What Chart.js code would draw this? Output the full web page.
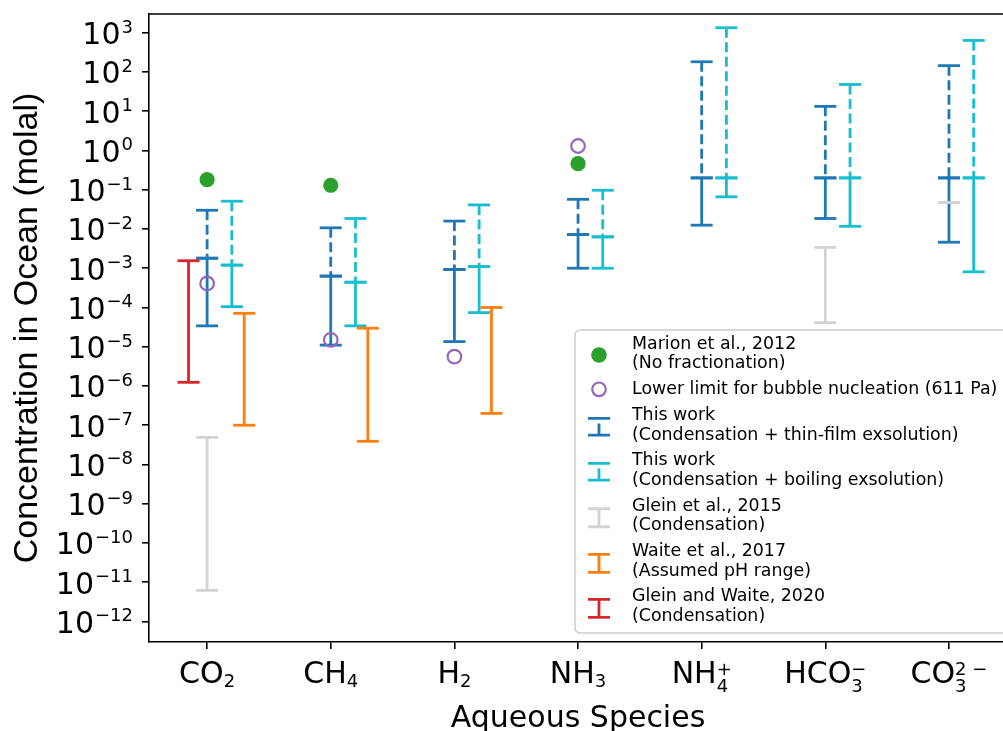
<!DOCTYPE html>
<html>
<head>
<meta charset="utf-8">
<title>Concentration in Ocean</title>
<script src="https://cdn.jsdelivr.net/npm/chart.js@4.4.1/dist/chart.umd.min.js"></script>
<style>
  html, body { margin: 0; padding: 0; background: #fff; overflow: hidden; }
  #wrap { width: 1003px; height: 731px; position: relative; }
</style>
</head>
<body>
<div id="wrap"><canvas id="chart"></canvas></div>
<script>
// Species on the x axis (base, subscript, superscript)
const speciesBase = ['CO', 'CH', 'H', 'NH', 'NH', 'HCO', 'CO'];
const speciesSub  = ['2', '4', '2', '3', '4', '3', '3'];
const speciesSup  = ['', '', '', '', '+', '\u2212', '2 \u2212'];

// y ticks (powers of ten)
const yTickExponents = [-12, -11, -10, -9, -8, -7, -6, -5, -4, -3, -2, -1, 0, 1, 2, 3];

// Marion et al., 2012 (no fractionation)
const marion = [0.18, 0.13, null, 0.46, null, null, null];
// Lower limit for bubble nucleation (611 Pa)
const bubbleLimit = [4.1e-4, 1.5e-5, 5.6e-6, 1.3, null, null, null];

// This work: condensation + thin-film exsolution
const thinFilmLow  = [3.4e-5, 1.1e-5, 1.35e-5, 1.0e-3, 0.0125, 0.0185, 4.6e-3];
const thinFilmMid  = [1.8e-3, 6.3e-4, 9.3e-4, 7.2e-3, 0.2, 0.2, 0.2];
const thinFilmHigh = [0.030, 0.0107, 0.0159, 0.057, 182, 13.3, 145];

// This work: condensation + boiling exsolution
const boilingLow  = [1.05e-4, 3.4e-5, 7.4e-5, 1.0e-3, 0.066, 0.0117, 8.1e-4];
const boilingMid  = [1.2e-3, 4.4e-4, 1.1e-3, 6.3e-3, 0.2, 0.2, 0.2];
const boilingHigh = [0.051, 0.0185, 0.041, 0.097, 1340, 48, 636];

// Glein et al., 2015 (condensation)
const glein2015Low  = [6.2e-12, null, null, null, null, 4.1e-5, 0.047];
const glein2015High = [4.9e-8, null, null, null, null, 3.4e-3, 0.047];

// Waite et al., 2017 (assumed pH range)
const waiteLow  = [1.0e-7, 3.9e-8, 2.0e-7, null, null, null, null];
const waiteHigh = [7.1e-5, 2.96e-5, 1.0e-4, null, null, null, null];

// Glein and Waite, 2020 (condensation)
const gleinWaiteLow  = [1.24e-6, null, null, null, null, null, null];
const gleinWaiteHigh = [1.55e-3, null, null, null, null, null, null];

// Cores (matplotlib tab)
const BLUE = '#1f77b4', CYAN = '#17becf', GRAY = '#d3d3d3', ORANGE = '#ff7f0e',
      RED = '#d62728', GREEN = '#2ca02c', PURPLE = '#9467bd';
const LW = 2.8;

// Pontos de uma barra de erro: topo, base, quebra
function rangePoints(low, high, offset) {
    const pts = [];
    low.forEach((v, i) => {
        if (v === null) return;
        pts.push({x: i + offset, y: high[i]}, {x: i + offset, y: v}, {x: i + offset, y: null});
    });
    return pts;
}

function markerPoints(values) {
    return values.map((v, i) => v === null ? null : {x: i, y: v}).filter(Boolean);
}

function errorSet(data, color, dashed) {
    return {
        data: data,
        showLine: true,
        spanGaps: false,
        borderColor: color,
        borderWidth: LW,
        borderDash: dashed ? [10, 4.5] : [],
        pointStyle: 'line',
        pointRadius: 11,
        pointBorderWidth: LW,
        pointBorderColor: color,
        pointBackgroundColor: color
    };
}

// Desenha texto químico com índices
function drawChem(ctx, base, sub, sup, cx, baseline) {
    ctx.font = '30px "DejaVu Sans"';
    const wb = ctx.measureText(base).width;
    ctx.font = '18px "DejaVu Sans"';
    const wsub = ctx.measureText(sub).width;
    const wsup = sup ? ctx.measureText(sup).width : 0;
    const total = wb + Math.max(wsub, wsup);
    const x0 = cx - total / 2;
    ctx.textAlign = 'left';
    ctx.textBaseline = 'alphabetic';
    ctx.font = '30px "DejaVu Sans"';
    ctx.fillText(base, x0, baseline);
    ctx.font = '18px "DejaVu Sans"';
    if (sup) {
        ctx.fillText(sub, x0 + wb, baseline + 9);
        ctx.fillText(sup, x0 + wb, baseline - 8);
    } else {
        ctx.fillText(sub, x0 + wb, baseline + 3.5);
    }
}

const decorPlugin = {
    id: 'decor',
    afterDraw(chart) {
        const {ctx, chartArea: a, scales: {x, y}} = chart;
        ctx.save();

        // borda superior
        ctx.strokeStyle = '#000';
        ctx.lineWidth = 1.6;
        ctx.beginPath();
        ctx.moveTo(a.left, a.top);
        ctx.lineTo(a.right, a.top);
        ctx.stroke();

        ctx.fillStyle = '#000';

        // rótulos do eixo y
        y.ticks.forEach(t => {
            const py = y.getPixelForValue(t.value);
            const exp = Math.round(Math.log10(t.value));
            const sup = exp < 0 ? '\u2212' + (-exp) : String(exp);
            ctx.font = '18px "DejaVu Sans"';
            const ws = ctx.measureText(sup).width;
            ctx.font = '30px "DejaVu Sans"';
            const wm = ctx.measureText('10').width;
            const right = a.left - 16;
            ctx.textAlign = 'left';
            ctx.textBaseline = 'alphabetic';
            ctx.fillText('10', right - ws - wm - 1, py + 11.5);
            ctx.font = '18px "DejaVu Sans"';
            ctx.fillText(sup, right - ws, py);
        });

        // título do eixo y
        ctx.save();
        ctx.translate(37, (a.top + a.bottom) / 2);
        ctx.rotate(-Math.PI / 2);
        ctx.font = '34px "Liberation Sans"';
        ctx.textAlign = 'center';
        ctx.textBaseline = 'alphabetic';
        ctx.fillText('Concentration in Ocean (molal)', 0, 0);
        ctx.restore();

        // rótulos do eixo x
        speciesBase.forEach((b, i) => {
            drawChem(ctx, b, speciesSub[i], speciesSup[i], x.getPixelForValue(i), a.bottom + 41);
        });

        // título do eixo x
        ctx.font = '30px "DejaVu Sans"';
        ctx.textAlign = 'center';
        ctx.textBaseline = 'alphabetic';
        const cx = (x.getPixelForValue(-0.47) + x.getPixelForValue(6.47)) / 2;
        ctx.fillText('Aqueous Species', cx, a.bottom + 85);

        // legenda
        drawLegend(ctx);
        ctx.restore();
    }
};

function drawLegend(ctx) {
    const left = 575, top = 330, bottom = 633, right = 1015, r = 5;
    ctx.beginPath();
    ctx.moveTo(left + r, top);
    ctx.lineTo(right, top);
    ctx.lineTo(right, bottom);
    ctx.lineTo(left + r, bottom);
    ctx.arcTo(left, bottom, left, bottom - r, r);
    ctx.lineTo(left, top + r);
    ctx.arcTo(left, top, left + r, top, r);
    ctx.closePath();
    ctx.fillStyle = 'rgba(255,255,255,0.85)';
    ctx.fill();
    ctx.strokeStyle = '#cccccc';
    ctx.lineWidth = 1.5;
    ctx.stroke();

    const sx = 599, tx = 632;
    const entries = [
        {lines: ['Marion et al., 2012', '(No fractionation)'], y: 344, kind: 'dot'},
        {lines: ['Lower limit for bubble nucleation (611 Pa)'], y: 389.3, kind: 'circle'},
        {lines: ['This work', '(Condensation + thin-film exsolution)'], y: 415.7, kind: 'split', color: BLUE},
        {lines: ['This work', '(Condensation + boiling exsolution)'], y: 460.7, kind: 'split', color: CYAN},
        {lines: ['Glein et al., 2015', '(Condensation)'], y: 506, kind: 'bar', color: GRAY},
        {lines: ['Waite et al., 2017', '(Assumed pH range)'], y: 551.7, kind: 'bar', color: ORANGE},
        {lines: ['Glein and Waite, 2020', '(Condensation)'], y: 596.7, kind: 'bar', color: RED}
    ];

    ctx.font = '17.4px "DejaVu Sans"';
    ctx.textAlign = 'left';
    ctx.textBaseline = 'middle';
    entries.forEach(e => {
        ctx.fillStyle = '#000';
        e.lines.forEach((t, k) => ctx.fillText(t, tx, e.y + k * 19.5));
        const m = e.lines.length > 1 ? e.y + 9.75 : e.y;
        ctx.lineWidth = LW;
        if (e.kind === 'dot') {
            ctx.fillStyle = GREEN;
            ctx.beginPath(); ctx.arc(sx, m + 1.3, 7.8, 0, Math.PI * 2); ctx.fill();
        } else if (e.kind === 'circle') {
            ctx.strokeStyle = PURPLE; ctx.lineWidth = 2.2;
            ctx.beginPath(); ctx.arc(sx, m, 6.8, 0, Math.PI * 2); ctx.stroke();
        } else if (e.kind === 'split') {
            ctx.strokeStyle = e.color;
            ctx.beginPath();
            ctx.moveTo(sx - 11, m - 7); ctx.lineTo(sx + 11, m - 7);
            ctx.moveTo(sx, m - 2); ctx.lineTo(sx, m + 9.6);
            ctx.moveTo(sx - 11, m + 9.6); ctx.lineTo(sx + 11, m + 9.6);
            ctx.stroke();
        } else {
            ctx.strokeStyle = e.color;
            const c = m + 2;
            ctx.beginPath();
            ctx.moveTo(sx - 11, c - 9); ctx.lineTo(sx + 11, c - 9);
            ctx.moveTo(sx, c - 9); ctx.lineTo(sx, c + 9);
            ctx.moveTo(sx - 11, c + 9); ctx.lineTo(sx + 11, c + 9);
            ctx.stroke();
        }
    });
}

const datasets = [
    {
        data: markerPoints(marion),
        pointStyle: 'circle', pointRadius: 7.6, pointBorderWidth: 0,
        pointBackgroundColor: GREEN, pointBorderColor: GREEN, showLine: false
    },
    {
        data: markerPoints(bubbleLimit),
        pointStyle: 'circle', pointRadius: 6.8, pointBorderWidth: 2.2,
        pointBackgroundColor: 'rgba(0,0,0,0)', pointBorderColor: PURPLE, showLine: false
    },
    errorSet(rangePoints(glein2015Low, glein2015High, 0), GRAY, false),
    errorSet(rangePoints(gleinWaiteLow, gleinWaiteHigh, -0.15), RED, false),
    errorSet(rangePoints(waiteLow, waiteHigh, 0.3), ORANGE, false),
    errorSet(rangePoints(boilingMid, boilingHigh, 0.2), CYAN, true),
    errorSet(rangePoints(boilingLow, boilingMid, 0.2), CYAN, false),
    errorSet(rangePoints(thinFilmMid, thinFilmHigh, 0), BLUE, true),
    errorSet(rangePoints(thinFilmLow, thinFilmMid, 0), BLUE, false)
];

new Chart(document.getElementById('chart'), {
    type: 'scatter',
    data: { datasets: datasets },
    plugins: [decorPlugin],
    options: {
        responsive: true,
        maintainAspectRatio: false,
        animation: false,
        events: [],
        layout: { autoPadding: false, padding: { top: 14, left: 142, bottom: 82, right: 0 } },
        plugins: { legend: { display: false }, tooltip: { enabled: false } },
        scales: {
            x: {
                type: 'linear',
                min: -0.47,
                max: 6.437,
                afterBuildTicks: (scale) => {
                    scale.ticks = speciesBase.map((_, i) => ({ value: i }));
                },
                ticks: { display: false },
                grid: { display: true, drawOnChartArea: false, drawTicks: true, tickLength: 7, color: '#000', lineWidth: 1.6 },
                border: { display: true, color: '#000', width: 1.6 }
            },
            y: {
                type: 'logarithmic',
                min: 3e-13,
                max: 3e3,
                afterBuildTicks: (scale) => {
                    scale.ticks = yTickExponents.map(e => ({ value: Math.pow(10, e) }));
                },
                ticks: { display: false },
                grid: { display: true, drawOnChartArea: false, drawTicks: true, tickLength: 7, color: '#000', lineWidth: 1.6 },
                border: { display: true, color: '#000', width: 1.6 }
            }
        }
    }
});
</script>
</body>
</html>
